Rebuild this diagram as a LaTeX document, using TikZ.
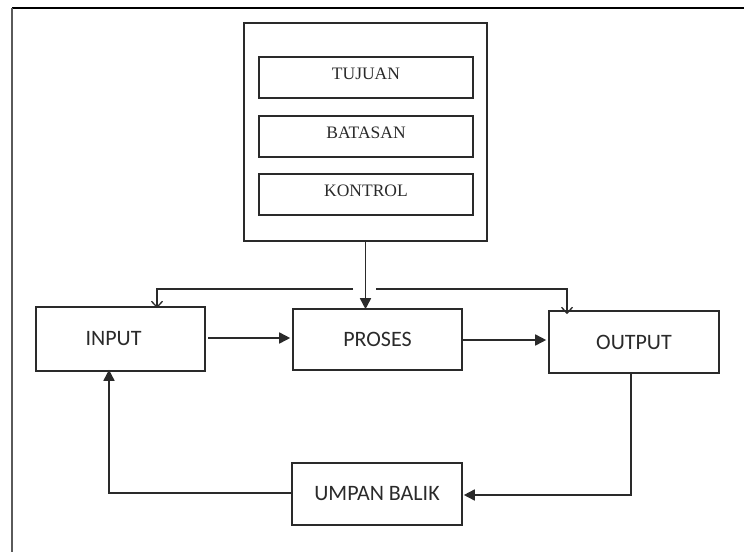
\documentclass[tikz,border=0pt]{standalone}
\usepackage{fontspec}
\newfontfamily\calfont{Carlito}
\newfontfamily\tnrfont{Liberation Serif}
\usetikzlibrary{arrows.meta}
\definecolor{ink}{HTML}{2A2A2A}
\definecolor{frameg}{HTML}{5A5A5A}
\tikzset{
  box/.style={draw=ink, line width=1.6pt, inner sep=0pt, text=ink},
  calbox/.style={box, font=\calfont\fontsize{22}{26}\selectfont},
  tnrbox/.style={box, font=\tnrfont\fontsize{17.5}{20}\selectfont, text height=11.5pt, text depth=8pt},
  conn/.style={draw=ink, line width=1.6pt},
  solidarr/.style={conn, -{Triangle[length=11pt,width=11pt]}},
  openarr/.style={conn, -{Straight Barb[length=6pt,width=11pt,line width=1.3pt]}}
}
\begin{document}
\begin{tikzpicture}[x=1pt,y=-1pt]
\useasboundingbox (0,0) rectangle (744,552);
% outer frame (top and left edges only)
\coordinate (ftl) at (12,8);
\coordinate (ftr) at (744,8);
\coordinate (fbl) at (12,552);
\draw[black, line width=2.2pt] (ftl) -- (ftr);
\draw[frameg, line width=2pt] (ftl) -- (fbl);

% top container
\node[box, minimum width=243pt, minimum height=218pt] (top) at (365.5,132) {};
\node[tnrbox, minimum width=214pt, minimum height=41pt] (tuj) at (366,77.5) {TUJUAN};
\node[tnrbox, minimum width=214pt, minimum height=41pt] (bat) at (366,136.5) {BATASAN};
\node[tnrbox, minimum width=214pt, minimum height=41pt] (kon) at (366,194.5) {KONTROL};

% main row
\node[calbox, minimum width=169pt, minimum height=64pt] (input) at (120.5,339) {\hspace*{-14pt}INPUT};
\node[calbox, minimum width=169pt, minimum height=61pt] (proses) at (377.5,339.5) {PROSES};
\node[calbox, minimum width=170pt, minimum height=62pt] (output) at (634,342) {OUTPUT};
\node[calbox, minimum width=170pt, minimum height=62pt] (umpan) at (377,494) {UMPAN BALIK};

% control distribution
\draw[solidarr] (top.south) -- ([yshift=-1pt]top.south |- proses.north);
\coordinate (jl) at (353,289);
\coordinate (jr) at (376,289);
\coordinate (ia) at (157,289);
\coordinate (oa) at (567,289);
\draw[openarr] (jl) -- (ia) -- ([yshift=-2pt]ia |- input.north);
\draw[openarr] (jr) -- (oa) -- ([yshift=-4pt]oa |- output.north);

% flow
\coordinate (ip) at (208,338);
\coordinate (po) at (463,340);
\draw[solidarr] (ip) -- ([xshift=-2pt]ip -| proses.west);
\draw[solidarr] (po) -- ([xshift=-2pt]po -| output.west);

% feedback
\coordinate (od) at (631,495);
\coordinate (iu) at (109,493);
\draw[solidarr] (od |- output.south) -- (od) -- ([xshift=1pt]umpan.east |- od);
\draw[solidarr] (umpan.west |- iu) -- (iu) -- ([yshift=2pt]iu |- input.south);
\end{tikzpicture}
\end{document}
